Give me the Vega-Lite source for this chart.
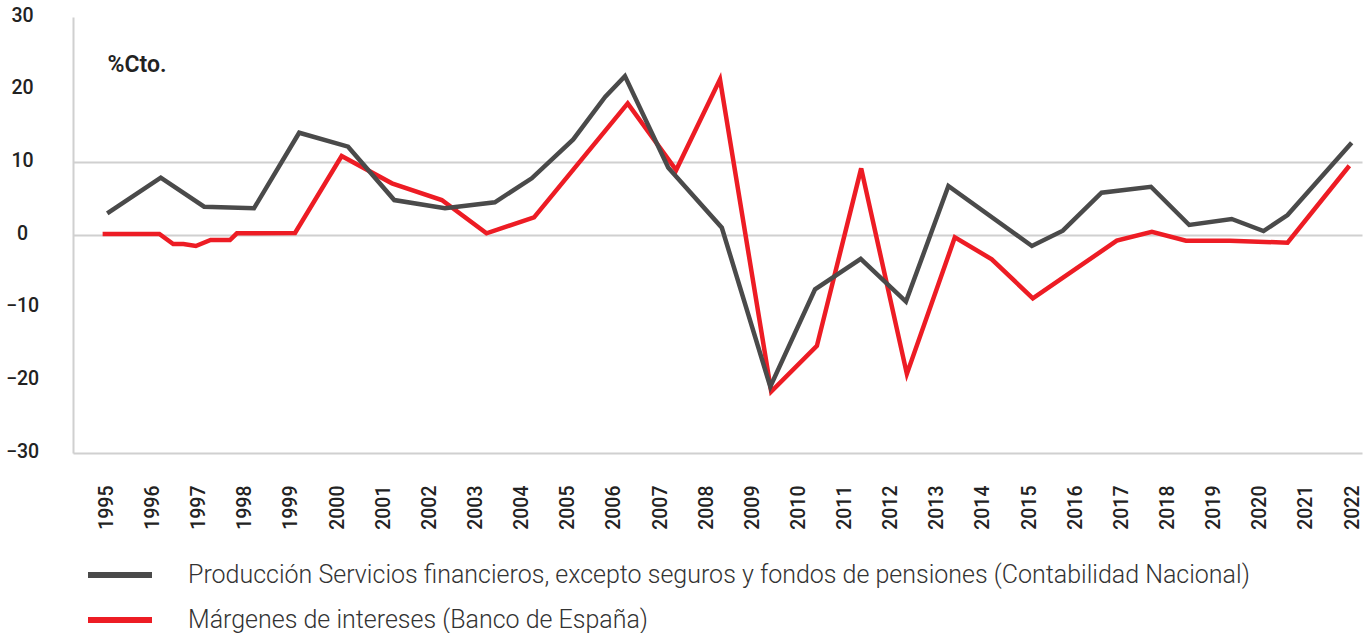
{
  "$schema": "https://vega.github.io/schema/vega-lite/v6.json",
  "width": 1289,
  "height": 436,
  "autosize": {"type": "none"},
  "padding": {"left": 73, "top": 17, "right": 2, "bottom": 180},
  "background": "white",
  "config": {"view": {"stroke": null}, "font": "Roboto"},
  "datasets": {
    "series": [
      {"s": "Márgenes de intereses (Banco de España)", "a": 1994.92, "v": 0.14},
      {"s": "Márgenes de intereses (Banco de España)", "a": 1996.15, "v": 0.14},
      {"s": "Márgenes de intereses (Banco de España)", "a": 1996.45, "v": -1.24},
      {"s": "Márgenes de intereses (Banco de España)", "a": 1996.67, "v": -1.24},
      {"s": "Márgenes de intereses (Banco de España)", "a": 1996.94, "v": -1.51},
      {"s": "Márgenes de intereses (Banco de España)", "a": 1997.26, "v": -0.69},
      {"s": "Márgenes de intereses (Banco de España)", "a": 1997.68, "v": -0.69},
      {"s": "Márgenes de intereses (Banco de España)", "a": 1997.83, "v": 0.23},
      {"s": "Márgenes de intereses (Banco de España)", "a": 1999.09, "v": 0.28},
      {"s": "Márgenes de intereses (Banco de España)", "a": 2000.10, "v": 10.87},
      {"s": "Márgenes de intereses (Banco de España)", "a": 2001.19, "v": 7.11},
      {"s": "Márgenes de intereses (Banco de España)", "a": 2002.27, "v": 4.81},
      {"s": "Márgenes de intereses (Banco de España)", "a": 2003.24, "v": 0.23},
      {"s": "Márgenes de intereses (Banco de España)", "a": 2004.27, "v": 2.43},
      {"s": "Márgenes de intereses (Banco de España)", "a": 2006.30, "v": 18.12},
      {"s": "Márgenes de intereses (Banco de España)", "a": 2007.35, "v": 8.94},
      {"s": "Márgenes de intereses (Banco de España)", "a": 2008.30, "v": 21.42},
      {"s": "Márgenes de intereses (Banco de España)", "a": 2009.41, "v": -21.55},
      {"s": "Márgenes de intereses (Banco de España)", "a": 2010.40, "v": -15.27},
      {"s": "Márgenes de intereses (Banco de España)", "a": 2011.36, "v": 9.17},
      {"s": "Márgenes de intereses (Banco de España)", "a": 2012.35, "v": -19.12},
      {"s": "Márgenes de intereses (Banco de España)", "a": 2013.39, "v": -0.32},
      {"s": "Márgenes de intereses (Banco de España)", "a": 2014.19, "v": -3.34},
      {"s": "Márgenes de intereses (Banco de España)", "a": 2015.08, "v": -8.71},
      {"s": "Márgenes de intereses (Banco de España)", "a": 2016.90, "v": -0.78},
      {"s": "Márgenes de intereses (Banco de España)", "a": 2017.66, "v": 0.45},
      {"s": "Márgenes de intereses (Banco de España)", "a": 2018.40, "v": -0.78},
      {"s": "Márgenes de intereses (Banco de España)", "a": 2019.35, "v": -0.78},
      {"s": "Márgenes de intereses (Banco de España)", "a": 2020.60, "v": -1.06},
      {"s": "Márgenes de intereses (Banco de España)", "a": 2021.94, "v": 9.53},
      {"s": "Producción Servicios financieros, excepto seguros y fondos de pensiones (Contabilidad Nacional)", "a": 1995.02, "v": 2.98},
      {"s": "Producción Servicios financieros, excepto seguros y fondos de pensiones (Contabilidad Nacional)", "a": 1996.18, "v": 7.88},
      {"s": "Producción Servicios financieros, excepto seguros y fondos de pensiones (Contabilidad Nacional)", "a": 1997.12, "v": 3.89},
      {"s": "Producción Servicios financieros, excepto seguros y fondos de pensiones (Contabilidad Nacional)", "a": 1998.20, "v": 3.67},
      {"s": "Producción Servicios financieros, excepto seguros y fondos de pensiones (Contabilidad Nacional)", "a": 1999.18, "v": 14.07},
      {"s": "Producción Servicios financieros, excepto seguros y fondos de pensiones (Contabilidad Nacional)", "a": 2000.24, "v": 12.15},
      {"s": "Producción Servicios financieros, excepto seguros y fondos de pensiones (Contabilidad Nacional)", "a": 2001.24, "v": 4.81},
      {"s": "Producción Servicios financieros, excepto seguros y fondos de pensiones (Contabilidad Nacional)", "a": 2002.34, "v": 3.67},
      {"s": "Producción Servicios financieros, excepto seguros y fondos de pensiones (Contabilidad Nacional)", "a": 2003.42, "v": 4.50},
      {"s": "Producción Servicios financieros, excepto seguros y fondos de pensiones (Contabilidad Nacional)", "a": 2004.22, "v": 7.80},
      {"s": "Producción Servicios financieros, excepto seguros y fondos de pensiones (Contabilidad Nacional)", "a": 2005.12, "v": 13.16},
      {"s": "Producción Servicios financieros, excepto seguros y fondos de pensiones (Contabilidad Nacional)", "a": 2005.81, "v": 19.00},
      {"s": "Producción Servicios financieros, excepto seguros y fondos de pensiones (Contabilidad Nacional)", "a": 2006.24, "v": 21.87},
      {"s": "Producción Servicios financieros, excepto seguros y fondos de pensiones (Contabilidad Nacional)", "a": 2007.18, "v": 9.26},
      {"s": "Producción Servicios financieros, excepto seguros y fondos de pensiones (Contabilidad Nacional)", "a": 2008.34, "v": 1.00},
      {"s": "Producción Servicios financieros, excepto seguros y fondos de pensiones (Contabilidad Nacional)", "a": 2009.39, "v": -20.87},
      {"s": "Producción Servicios financieros, excepto seguros y fondos de pensiones (Contabilidad Nacional)", "a": 2010.36, "v": -7.47},
      {"s": "Producción Servicios financieros, excepto seguros y fondos de pensiones (Contabilidad Nacional)", "a": 2011.35, "v": -3.30},
      {"s": "Producción Servicios financieros, excepto seguros y fondos de pensiones (Contabilidad Nacional)", "a": 2012.33, "v": -9.17},
      {"s": "Producción Servicios financieros, excepto seguros y fondos de pensiones (Contabilidad Nacional)", "a": 2013.25, "v": 6.74},
      {"s": "Producción Servicios financieros, excepto seguros y fondos de pensiones (Contabilidad Nacional)", "a": 2015.06, "v": -1.51},
      {"s": "Producción Servicios financieros, excepto seguros y fondos de pensiones (Contabilidad Nacional)", "a": 2015.73, "v": 0.59},
      {"s": "Producción Servicios financieros, excepto seguros y fondos de pensiones (Contabilidad Nacional)", "a": 2016.57, "v": 5.82},
      {"s": "Producción Servicios financieros, excepto seguros y fondos de pensiones (Contabilidad Nacional)", "a": 2017.64, "v": 6.64},
      {"s": "Producción Servicios financieros, excepto seguros y fondos de pensiones (Contabilidad Nacional)", "a": 2018.47, "v": 1.38},
      {"s": "Producción Servicios financieros, excepto seguros y fondos de pensiones (Contabilidad Nacional)", "a": 2019.39, "v": 2.20},
      {"s": "Producción Servicios financieros, excepto seguros y fondos de pensiones (Contabilidad Nacional)", "a": 2020.08, "v": 0.55},
      {"s": "Producción Servicios financieros, excepto seguros y fondos de pensiones (Contabilidad Nacional)", "a": 2020.60, "v": 2.75},
      {"s": "Producción Servicios financieros, excepto seguros y fondos de pensiones (Contabilidad Nacional)", "a": 2021.99, "v": 12.70}
    ]
  },
  "data": {"name": "series"},
  "mark": {"type": "line", "strokeWidth": 4.5, "strokeJoin": "miter", "strokeCap": "butt"},
  "encoding": {
    "x": {
      "field": "a",
      "type": "quantitative",
      "scale": {"domain": [1994.278, 2022.214], "nice": false, "zero": false},
      "axis": {
        "title": null,
        "values": [1995,1996,1997,1998,1999,2000,2001,2002,2003,2004,2005,2006,2007,2008,2009,2010,2011,2012,2013,2014,2015,2016,2017,2018,2019,2020,2021,2022],
        "format": "d",
        "labelAngle": -90,
        "labelAlign": "right",
        "labelBaseline": "middle",
        "labelFontSize": 19.5,
        "labelFontWeight": 500,
        "labelColor": "#222222",
        "labelPadding": 32,
        "ticks": false,
        "tickSize": 0,
        "grid": false,
        "domainColor": "#d0d0d0",
        "domainWidth": 2,
        "labelOverlap": false,
        "labelFlush": false
      }
    },
    "y": {
      "field": "v",
      "type": "quantitative",
      "scale": {"domain": [-30, 30], "nice": false},
      "axis": {
        "title": "%Cto.",
        "titleAngle": 0,
        "titleAlign": "left",
        "titleBaseline": "alphabetic",
        "titleX": 34,
        "titleY": 54,
        "titleFontSize": 23,
        "titleFontWeight": 600,
        "titleColor": "#222222",
        "values": [-30, -20, -10, 0, 10, 20, 30],
        "labelAlign": "center",
        "labelBaseline": "middle",
        "labelPadding": 51,
        "labelFontSize": 19.5,
        "labelFontWeight": 500,
        "labelColor": "#222222",
        "labelOffset": -2,
        "ticks": false,
        "tickSize": 0,
        "grid": true,
        "gridColor": "#d0d0d0",
        "gridWidth": 2,
        "gridOpacity": {"condition": {"test": "datum.value == 0 || datum.value == 10", "value": 1}, "value": 0},
        "domainColor": "#d0d0d0",
        "domainWidth": 2,
        "labelFlush": false,
        "labelOverlap": false
      }
    },
    "color": {
      "field": "s",
      "type": "nominal",
      "scale": {
        "domain": ["Producción Servicios financieros, excepto seguros y fondos de pensiones (Contabilidad Nacional)", "Márgenes de intereses (Banco de España)"],
        "range": ["#4a4a4a", "#ed1c24"]
      },
      "legend": {
        "title": null,
        "orient": "none",
        "legendX": 12,
        "legendY": 543,
        "padding": 0,
        "symbolType": "stroke",
        "symbolSize": 4096,
        "symbolStrokeWidth": 6,
        "clipHeight": 30,
        "rowPadding": 15,
        "labelOffset": 33,
        "labelFontSize": 25,
        "labelFontWeight": 300,
        "labelColor": "#333333",
        "labelLimit": 0,
        "labelBaseline": "middle"
      }
    }
  }
}
